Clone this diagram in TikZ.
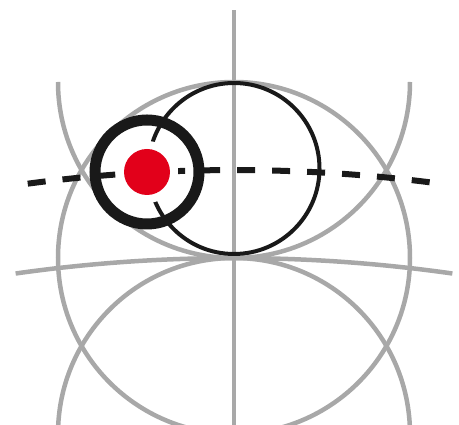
\documentclass[tikz,border=0pt]{standalone}
\usepackage{xcolor}
\usepackage{tikz}
\definecolor{chartgray}{HTML}{A8A8A8}
\definecolor{dotred}{HTML}{E2001A}

\begin{document}
\begin{tikzpicture}[
  x=1pt, y=1pt,
  chartline/.style={draw=chartgray, line width=4.5pt},
  trackline/.style={draw=black!90, line width=4pt},
  sightline/.style={draw=black!90, line width=6pt, dash pattern=on 18pt off 17pt},
  targetring/.style={draw=black!90, line width=11pt}
]
\clip (0,0) rectangle (459,425);

% --- Reference points ---
\coordinate (O)     at (234,167);
\coordinate (axbot) at (234,0);
\coordinate (axtop) at (234,415);
\coordinate (upc)   at (234,343);
\coordinate (loc)   at (234,-9);
\coordinate (gc)    at (234,-1383);
\coordinate (dc)    at (234,-1315);
\coordinate (trk)   at (234,256.5);
\coordinate (tgt)   at (147,253);

% --- Chart (gray) ---
\draw[chartline] (axbot) -- (axtop);
\draw[chartline] (O) circle[radius=176];
\draw[chartline] (upc) ++(180:176) arc[start angle=180, end angle=360, radius=176];
\draw[chartline] (loc) ++(0:176) arc[start angle=0, end angle=180, radius=176];
\draw[chartline] (gc) ++(98.1:1550) arc[start angle=98.1, end angle=81.9, radius=1550];

% --- Track circle and sight line ---
\draw[trackline] (trk) circle[radius=85.5];
\draw[sightline] (dc) ++(97.55:1570) arc[start angle=97.55, end angle=82.75, radius=1570];

% --- Target ---
\draw[targetring] (tgt) circle[radius=52];
\fill[white] (tgt) circle[radius=31];
\fill[dotred] (tgt) circle[radius=23];

\end{tikzpicture}
\end{document}
